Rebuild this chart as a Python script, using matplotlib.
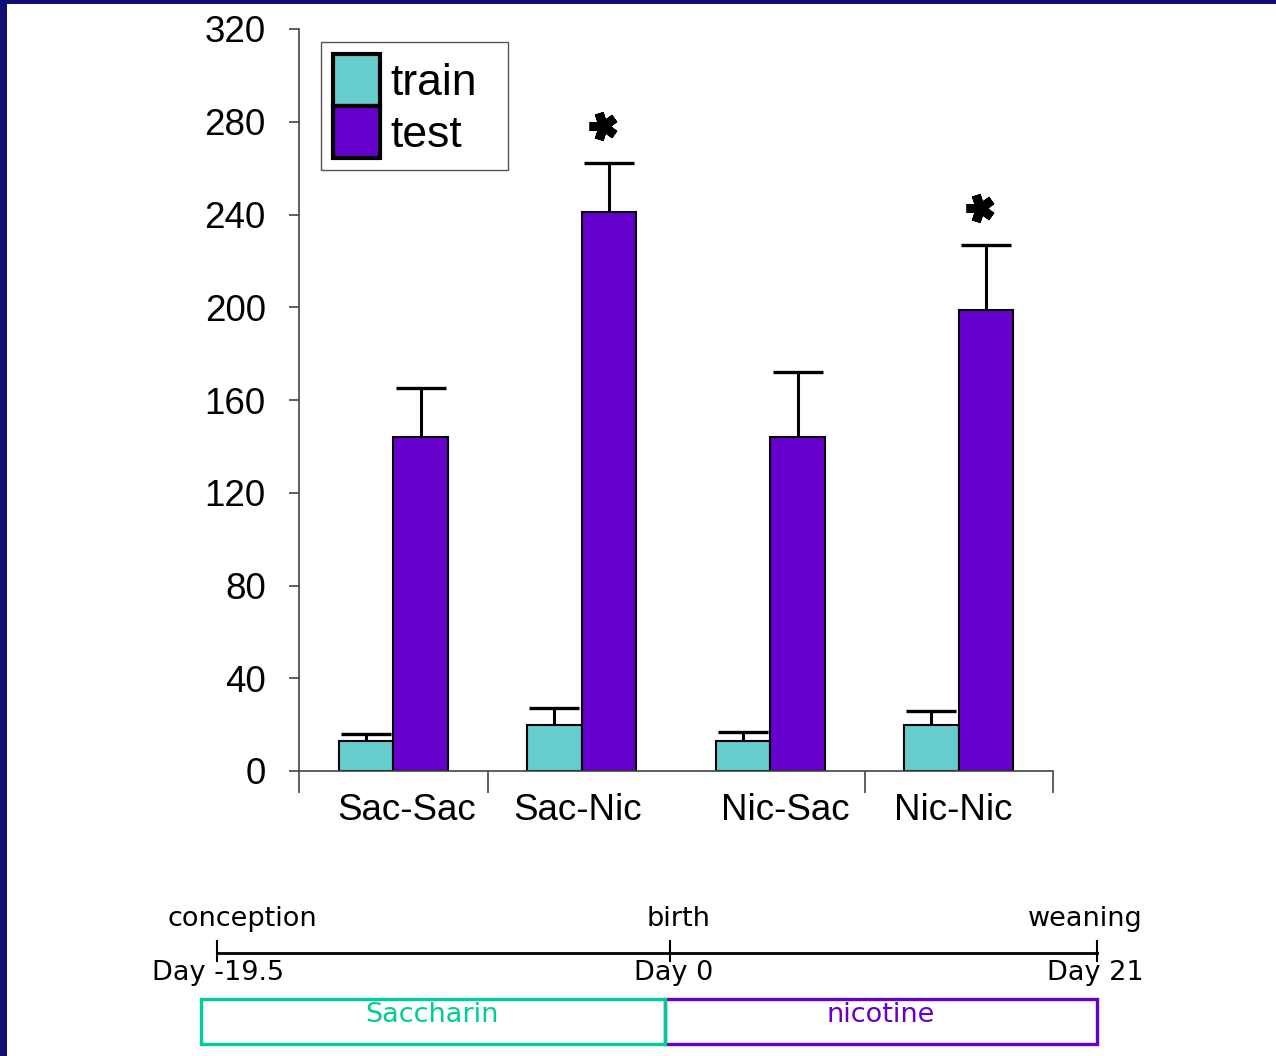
import matplotlib
matplotlib.use("Agg")
import matplotlib.pyplot as plt
from matplotlib.patches import Patch, Rectangle

# ---- data ----
groups = ["Sac-Sac", "Sac-Nic", "Nic-Sac", "Nic-Nic"]
train = [13, 20, 13, 20]
train_err = [3, 7, 4, 6]
test = [144, 241, 144, 199]
test_err = [21, 21, 28, 28]
significant = [False, True, False, True]
yticks = [0, 40, 80, 120, 160, 200, 240, 280, 320]

timeline_labels = ["conception", "birth", "weaning"]
timeline_days = ["Day -19.5", "Day 0", "Day 21"]
phases = ["Saccharin", "nicotine"]

TRAIN_C = "#66cccc"
TEST_C = "#6600cc"
SAC_C = "#00cc99"
BORDER_C = "#110e74"

W, H = 1276, 1056
fig = plt.figure(figsize=(W / 100, H / 100), dpi=100)
fig.patch.set_facecolor("white")

# ---- bar chart ----
ax = fig.add_axes([299 / W, 285 / H, 754 / W, 742 / H])
ax.set_xlim(-0.5, 3.5)
ax.set_ylim(0, 320)

x = list(range(len(groups)))
bw = 0.29
x_train = [i - bw / 2 for i in x]
x_test = [i + bw / 2 for i in x]

ax.bar(x_train, train, width=bw, color=TRAIN_C, edgecolor="black", linewidth=1.5, zorder=2)
ax.bar(x_test, test, width=bw, color=TEST_C, edgecolor="black", linewidth=1.5, zorder=2)

for xs, vals, errs in ((x_train, train, train_err), (x_test, test, test_err)):
    _, caps, _ = ax.errorbar(xs, vals, yerr=[[0] * len(vals), errs], fmt="none",
                             ecolor="black", elinewidth=2.2, capsize=18, capthick=2.4, zorder=3)
    caps[0].set_visible(False)

for xi, v, e, sig in zip(x_test, test, test_err, significant):
    if sig:
        ax.plot([xi - 0.03], [v + e + 16], marker=(5, 2, 90), markersize=20,
                markeredgewidth=6.5, color="black", zorder=4)

for side in ("top", "right"):
    ax.spines[side].set_visible(False)
for side in ("left", "bottom"):
    ax.spines[side].set_color("#444444")
    ax.spines[side].set_linewidth(1.2)

ax.set_yticks(yticks)
ax.set_yticklabels([str(v) for v in yticks], fontsize=26.5, family="Liberation Sans")
ax.tick_params(axis="y", direction="out", length=7, width=1.2, color="#444444", pad=17)

label_pos = [0.07, 0.98, 2.08, 2.97]
ax.set_xticks(label_pos)
ax.set_xticklabels(groups, fontsize=26.5, family="Liberation Sans")
ax.tick_params(axis="x", which="major", length=0, pad=16)
ax.set_xticks([-0.5, 0.5, 2.5, 3.5], minor=True)
ax.tick_params(axis="x", which="minor", direction="out", length=16, width=1.2, color="#444444")

leg = ax.legend(handles=[Patch(facecolor=TRAIN_C, edgecolor="black", linewidth=3, label="train"),
                         Patch(facecolor=TEST_C, edgecolor="black", linewidth=3, label="test")],
                loc="upper left", bbox_to_anchor=(0.029, 0.0, 0.248, 0.983), mode="expand",
                fancybox=False, framealpha=1, edgecolor="#555555",
                handlelength=1.06, handleheight=1.42,
                labelspacing=0.0, handletextpad=0.22, borderpad=0.28, borderaxespad=0,
                prop={"family": "Liberation Sans", "size": 32})
leg.get_frame().set_linewidth(1.0)

# ---- developmental timeline ----
tl = fig.add_axes([0, 0, 1, 1])
tl.set_xlim(0, W)
tl.set_ylim(H, 0)
tl.axis("off")

event_x = [217, 670, 1097]
tl.plot([event_x[0], event_x[-1]], [953, 953], color="black", lw=2.0)
for ex in event_x:
    tl.plot([ex, ex], [941, 961], color="black", lw=1.5)

font_tl = {"family": "DejaVu Sans", "size": 19.5}
label_x = [242, 678, 1085]
day_x = [218, 674, 1095]
for lx, t in zip(label_x, timeline_labels):
    tl.text(lx, 919, t, ha="center", va="center", **font_tl)
for dx, t in zip(day_x, timeline_days):
    tl.text(dx, 973, t, ha="center", va="center", **font_tl)

tl.add_patch(Rectangle((665, 999), 1097 - 665, 45, fill=False, edgecolor=TEST_C, lw=2.4))
tl.add_patch(Rectangle((201, 999), 665 - 201, 45, fill=False, edgecolor=SAC_C, lw=2.4))
tl.text(432, 1015, phases[0], ha="center", va="center", color=SAC_C, **font_tl)
tl.text(881, 1015, phases[1], ha="center", va="center", color=TEST_C, **font_tl)

# frame strips
tl.add_patch(Rectangle((0, 0), 7, H, color=BORDER_C, lw=0))
tl.add_patch(Rectangle((0, 0), W, 4, color=BORDER_C, lw=0))

fig.savefig("out.png", dpi=100)
